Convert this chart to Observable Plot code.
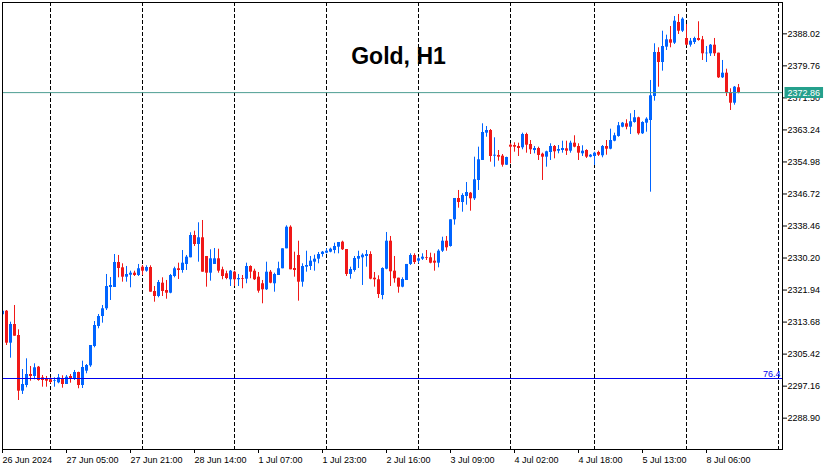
<!DOCTYPE html>
<html><head><meta charset="utf-8">
<script src="https://cdn.jsdelivr.net/npm/d3@7"></script>
<script src="https://cdn.jsdelivr.net/npm/@observablehq/plot@0.6"></script>
<style>html,body{margin:0;padding:0;background:#fff;overflow:hidden}</style>
</head><body><div id="chart"></div>
<script>
// ---- data (H1 bars, index -1 = 26 Jun 12:00 ... 183 = 8 Jul 14:00) ----
const title = "Gold, H1";
const openPrices = [
 2315.56,2316.49,2308.24,2313.06,2310.22,2295.86,2297.33,2300.17,2299.65,2302.05,
 2299.31,2299.06,2298.80,2298.44,2298.02,2298.95,2297.59,2299.65,2298.95,2300.68,
 2297.33,2301.02,2302.40,2307.39,2312.54,2315.12,2317.11,2322.60,2322.60,2329.05,
 2327.68,2325.26,2325.77,2326.29,2325.70,2327.84,2326.81,2327.76,2321.57,2320.28,
 2323.71,2321.83,2321.13,2325.44,2327.43,2326.99,2328.54,2330.26,2336.01,2333.69,
 2335.42,2330.60,2326.29,2328.54,2330.00,2327.17,2326.14,2324.59,2326.55,2324.59,
 2324.92,2324.74,2328.02,2326.81,2325.26,2323.56,2322.01,2326.55,2323.56,2325.70,
 2327.43,2332.58,2338.15,2327.50,2330.86,2323.97,2327.84,2328.02,2329.13,2329.90,
 2331.11,2331.45,2331.71,2332.14,2333.00,2334.29,2332.40,2325.96,2326.99,2329.90,
 2330.26,2330.60,2331.11,2325.00,2324.59,2320.54,2327.32,2334.54,2326.81,2325.00,
 2322.68,2324.41,2328.54,2330.86,2329.39,2329.90,2330.26,2330.26,2329.39,2328.87,
 2331.96,2334.54,2333.18,2340.06,2345.56,2344.52,2346.07,2346.92,2345.48,2350.20,
 2355.36,2362.40,2363.09,2356.47,2356.65,2356.47,2354.14,2359.30,2359.22,2358.97,
 2358.63,2362.06,2359.48,2357.93,2358.45,2356.98,2356.21,2357.42,2358.97,2357.75,
 2357.93,2358.37,2357.75,2359.82,2358.97,2357.08,2357.93,2356.21,2356.39,2357.42,
 2356.57,2358.97,2358.27,2360.33,2361.55,2363.94,2364.82,2363.94,2365.16,2366.37,
 2362.24,2364.98,2365.67,2371.86,2383.21,2380.63,2384.58,2386.48,2385.61,2390.95,
 2388.70,2386.82,2385.09,2385.79,2386.82,2386.48,2382.87,2382.87,2385.09,2383.03,
 2376.68,2377.87,2372.89,2370.13,2374.11
];
const highPrices = [
 2316.93,2316.67,2313.65,2317.96,2311.69,2301.45,2304.21,2302.23,2302.92,2302.23,
 2299.91,2299.65,2299.31,2299.31,2300.17,2299.83,2299.91,2300.17,2301.20,2300.76,
 2303.60,2302.74,2307.64,2313.83,2315.64,2317.96,2325.96,2325.18,2331.11,2330.86,
 2328.71,2328.02,2326.81,2326.81,2328.54,2328.28,2328.20,2328.20,2322.86,2324.41,
 2325.10,2324.41,2325.96,2327.84,2328.87,2332.14,2330.86,2336.71,2337.12,2339.29,
 2339.88,2330.60,2332.33,2332.66,2332.48,2327.84,2326.81,2326.99,2326.81,2325.96,
 2325.70,2328.87,2328.20,2327.32,2326.47,2324.41,2329.13,2326.99,2326.29,2329.13,
 2332.58,2338.51,2338.51,2331.71,2334.54,2328.71,2331.96,2330.60,2330.93,2331.63,
 2331.89,2332.58,2332.74,2334.03,2334.21,2334.54,2332.40,2327.84,2330.60,2331.96,
 2331.29,2332.14,2331.81,2326.47,2325.62,2327.68,2336.79,2335.76,2330.60,2325.00,
 2325.10,2328.54,2331.29,2331.29,2330.42,2331.29,2332.14,2331.45,2331.29,2332.33,
 2335.57,2335.76,2340.06,2345.56,2347.62,2346.77,2349.68,2347.10,2356.21,2358.79,
 2364.82,2364.12,2363.35,2361.21,2357.93,2356.90,2356.21,2359.66,2359.92,2359.82,
 2362.40,2362.40,2360.51,2358.97,2358.79,2357.24,2357.75,2359.66,2359.22,2359.22,
 2360.33,2360.33,2360.33,2361.73,2359.66,2359.15,2358.12,2356.90,2357.50,2357.75,
 2359.22,2360.51,2363.43,2362.40,2365.16,2365.16,2365.85,2367.40,2368.25,2366.52,
 2365.34,2366.37,2375.99,2385.45,2384.42,2388.70,2387.67,2389.91,2392.49,2393.01,
 2392.16,2390.43,2386.82,2387.15,2391.13,2387.34,2384.76,2385.27,2386.82,2383.03,
 2381.15,2378.90,2373.85,2374.44,2374.96
];
const lowPrices = [
 2315.38,2307.64,2304.37,2310.04,2293.46,2295.01,2296.74,2298.44,2298.80,2298.44,
 2296.89,2296.89,2297.77,2296.89,2297.77,2296.63,2297.59,2297.92,2298.62,2296.48,
 2296.55,2300.35,2302.00,2307.05,2311.95,2313.40,2316.67,2319.25,2322.60,2325.10,
 2323.97,2323.97,2322.52,2325.44,2325.44,2325.70,2326.55,2321.39,2318.81,2319.95,
 2320.28,2319.58,2320.98,2325.10,2324.67,2326.29,2326.99,2330.26,2333.18,2329.13,
 2326.55,2322.68,2324.23,2328.54,2326.29,2324.59,2324.59,2322.86,2322.86,2322.86,
 2322.27,2323.56,2324.85,2324.41,2321.13,2318.40,2321.83,2323.56,2321.39,2325.70,
 2327.43,2332.58,2327.17,2325.26,2319.07,2322.68,2326.55,2326.99,2326.81,2328.71,
 2330.42,2331.29,2331.55,2331.29,2331.29,2332.14,2325.44,2324.74,2326.55,2327.50,
 2323.12,2327.84,2324.59,2322.68,2319.77,2319.43,2327.17,2322.86,2323.71,2321.13,
 2322.52,2324.41,2328.28,2328.54,2328.71,2329.57,2329.57,2328.71,2326.81,2327.68,
 2331.63,2331.96,2333.00,2338.67,2343.05,2342.02,2343.83,2342.28,2345.04,2347.62,
 2355.36,2361.36,2354.92,2353.63,2355.18,2353.63,2354.07,2354.50,2357.50,2356.39,
 2358.12,2357.24,2356.90,2357.08,2355.36,2350.20,2353.63,2355.36,2355.79,2357.08,
 2357.24,2356.65,2357.24,2358.63,2355.36,2356.39,2355.87,2356.05,2354.07,2356.39,
 2356.05,2356.72,2358.12,2360.18,2361.36,2363.79,2363.27,2362.06,2364.98,2361.88,
 2362.06,2362.65,2347.18,2370.65,2374.26,2378.39,2383.72,2384.42,2385.27,2387.85,
 2388.37,2384.94,2384.58,2385.27,2386.12,2381.15,2380.63,2382.18,2382.18,2376.50,
 2376.50,2371.86,2368.25,2369.62,2372.56
];
const closePrices = [
 2316.49,2308.24,2313.06,2310.04,2295.86,2297.59,2300.17,2299.65,2301.89,2298.62,
 2298.62,2298.44,2298.10,2298.62,2299.31,2297.59,2299.47,2299.13,2300.68,2297.33,
 2301.97,2302.49,2307.64,2312.80,2315.12,2317.11,2322.86,2323.12,2329.05,2327.50,
 2325.26,2325.96,2326.29,2325.70,2327.43,2326.81,2327.76,2321.39,2320.28,2323.89,
 2321.57,2321.13,2325.70,2327.43,2326.99,2328.87,2330.42,2336.01,2333.69,2335.42,
 2326.55,2326.29,2330.00,2330.00,2326.81,2325.44,2324.92,2326.81,2324.59,2324.92,
 2324.74,2328.02,2326.55,2324.59,2321.65,2322.01,2326.55,2323.71,2325.96,2327.43,
 2332.58,2338.15,2327.17,2326.99,2323.97,2328.02,2328.28,2329.39,2329.90,2331.11,
 2331.71,2331.96,2332.48,2333.18,2334.21,2332.33,2325.96,2327.24,2330.08,2330.60,
 2330.93,2331.11,2324.74,2324.59,2320.80,2327.50,2334.54,2326.65,2324.85,2322.68,
 2324.67,2328.54,2330.86,2329.05,2330.00,2330.42,2330.08,2328.87,2328.87,2331.96,
 2334.54,2332.84,2340.06,2345.56,2344.52,2346.33,2347.10,2345.48,2350.38,2355.54,
 2362.58,2363.09,2356.39,2356.72,2356.21,2354.14,2356.13,2358.79,2358.79,2358.45,
 2362.06,2359.30,2358.12,2358.45,2356.65,2356.21,2357.60,2358.97,2357.60,2358.19,
 2358.45,2357.75,2359.82,2358.79,2357.24,2357.75,2356.21,2356.72,2357.24,2356.72,
 2358.97,2358.27,2360.51,2361.73,2364.31,2364.98,2363.94,2365.34,2366.37,2362.24,
 2365.16,2366.01,2372.04,2383.21,2380.63,2384.76,2386.48,2385.61,2391.28,2388.70,
 2391.80,2385.09,2386.12,2386.82,2386.30,2382.87,2383.03,2385.09,2382.87,2376.68,
 2377.87,2372.71,2370.13,2374.26,2372.86
];
const firstBarIndex = -1;
const priceTicks = [2288.90,2297.16,2305.42,2313.68,2321.94,2330.20,2338.46,2346.72,2354.98,2363.24,2371.50,2379.76,2388.02];
const timeTickBars = [-1,15,31,47,63,79,95,111,127,143,159,175];
const timeTickLabels = ["26 Jun 2024","27 Jun 05:00","27 Jun 21:00","28 Jun 14:00","1 Jul 07:00","1 Jul 23:00","2 Jul 16:00","3 Jul 09:00","4 Jul 02:00","4 Jul 18:00","5 Jul 13:00","8 Jul 06:00"];
const daySeparatorBars = [11,34,57,80,103,126,147,170,193];
const barDomain = [-1, 194];
const priceDomain = [2280.82, 2396.10];
const lastPrice = 2372.86;
const fibLevelPrice = 2299.13;
const fibLevelLabel = "76.4";

// ---- styling ----
const BULL = "#0064FF", BEAR = "#F01818", FIB = "#0000EE", LINE = "#4E9E92", TAG = "#25A08C";

const bars = openPrices.map((o, k) => ({
  i: firstBarIndex + k, open: o, high: highPrices[k], low: lowPrices[k], close: closePrices[k]
}));
const isBull = d => d.close >= d.open;
const tickLabelOf = new Map(timeTickBars.map((b, k) => [b, timeTickLabels[k]]));

const chart = Plot.plot({
  width: 835, height: 470,
  marginLeft: 2, marginTop: 2, marginRight: 53, marginBottom: 21,
  style: {fontFamily: "'Liberation Sans', Arial, sans-serif", fontSize: "9px", color: "black", background: "white"},
  x: {type: "linear", domain: barDomain},
  y: {type: "linear", domain: priceDomain},
  marks: [
    Plot.ruleX(daySeparatorBars, {x: d => d, stroke: "black", strokeDasharray: "4,2"}),
    Plot.ruleX(bars, {filter: isBull, x: "i", y1: "low", y2: "high", stroke: BULL, clip: true}),
    Plot.ruleX(bars, {filter: d => !isBull(d), x: "i", y1: "low", y2: "high", stroke: BEAR, clip: true}),
    Plot.ruleX(bars, {filter: isBull, x: "i", y1: "open", y2: "close", stroke: BULL, strokeWidth: 3, clip: true}),
    Plot.ruleX(bars, {filter: d => !isBull(d), x: "i", y1: "open", y2: "close", stroke: BEAR, strokeWidth: 3, clip: true}),
    Plot.ruleY([fibLevelPrice], {y: d => d, stroke: FIB}),
    Plot.ruleY([lastPrice], {y: d => d, stroke: LINE}),
    Plot.frame({stroke: "black"}),
    Plot.axisY({anchor: "right", ticks: priceTicks, tickFormat: d => d.toFixed(2), tickSize: 4, tickPadding: 1, label: null}),
    Plot.axisX({anchor: "bottom", ticks: timeTickBars, tickFormat: d => tickLabelOf.get(d), textAnchor: "start", tickSize: 4, tickPadding: 3, label: null}),
    Plot.text([fibLevelPrice], {y: d => d, frameAnchor: "right", textAnchor: "end", lineAnchor: "bottom", dx: -2, dy: -2, text: () => fibLevelLabel, fill: FIB}),
    Plot.text([lastPrice], {y: d => d, frameAnchor: "right", textAnchor: "start", dx: 5, text: d => d.toFixed(2), fill: "white"}),
    Plot.text([title], {frameAnchor: "top", textAnchor: "middle", lineAnchor: "top", dx: 6, dy: 45, fontSize: 23, fontWeight: "bold", fill: "black"})
  ]
});
document.getElementById("chart").append(chart);

// price tag background box
const tagText = [...chart.querySelectorAll("text")].find(t => t.textContent === lastPrice.toFixed(2));
if (tagText) {
  const bb = tagText.getBBox();
  const r = document.createElementNS("http://www.w3.org/2000/svg", "rect");
  r.setAttribute("x", bb.x - 3);
  r.setAttribute("y", bb.y - 0.5);
  r.setAttribute("width", bb.width + 6);
  r.setAttribute("height", bb.height + 1);
  r.setAttribute("fill", TAG);
  if (tagText.getAttribute("transform")) r.setAttribute("transform", tagText.getAttribute("transform"));
  tagText.parentNode.insertBefore(r, tagText);
}
</script>
</body></html>
